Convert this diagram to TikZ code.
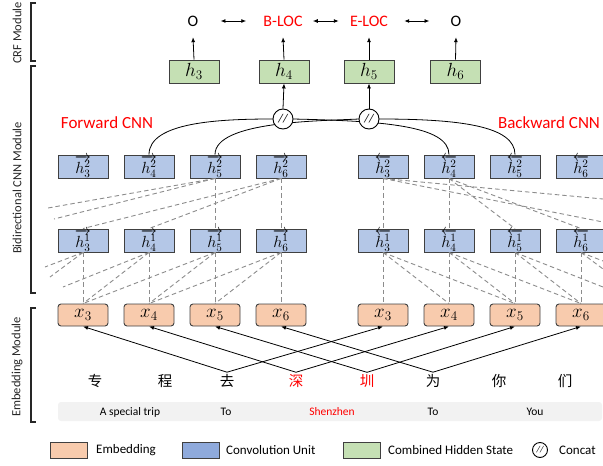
\documentclass[tikz,border=0pt]{standalone}
\usepackage{fontspec}
\setmainfont{Carlito}
\newfontfamily\cjk{Noto Sans CJK SC}
\usetikzlibrary{arrows.meta}
\definecolor{gfill}{HTML}{C5E0B4}
\definecolor{bfill}{HTML}{B4C7E7}
\definecolor{ofill}{HTML}{F8CBAD}
\definecolor{bleg}{HTML}{8FAADC}
\definecolor{bord}{HTML}{404040}
\definecolor{dgray}{HTML}{8C8C8C}
\definecolor{bandc}{HTML}{F2F2F2}
\definecolor{redc}{HTML}{FF0000}
\begin{document}
\begin{tikzpicture}[x=1pt,y=-1pt,
  box/.style={draw=bord, line width=0.9pt, minimum width=50pt, minimum height=23pt, inner sep=0pt},
  gbox/.style={box, fill=gfill, font=\fontsize{17.28}{18}\selectfont},
  bbox/.style={box, fill=bfill, font=\fontsize{14.4}{15}\selectfont},
  obox/.style={box, fill=ofill, rounded corners=3pt, minimum height=22pt, font=\fontsize{17.28}{18}\selectfont},
  dsh/.style={draw=dgray, line width=0.9pt, dash pattern=on 4.5pt off 3pt},
  arr/.style={draw=black, line width=0.8pt, -{Latex[length=5pt,width=4pt]}},
  darr/.style={draw=black, line width=0.9pt, {Latex[length=5pt,width=4pt]}-{Latex[length=5pt,width=4pt]}},
  curve/.style={draw=black, line width=0.8pt},
  lab/.style={font=\fontsize{16}{18}\selectfont, inner sep=0pt, minimum height=32pt},
  cnnlab/.style={font=\fontsize{17}{19}\selectfont, text=redc, inner sep=0pt},
  concat/.style={circle, draw=black, fill=white, line width=0.9pt, minimum size=20pt, inner sep=0pt, font=\fontsize{12}{13}\selectfont\itshape},
  chr/.style={font=\cjk\fontsize{14.5}{16}\selectfont, inner sep=2pt},
  bandtxt/.style={font=\fontsize{11.5}{13}\selectfont, inner sep=0pt},
  legbox/.style={draw=bord, line width=1pt, minimum width=37pt, minimum height=16pt, inner sep=0pt},
  legtxt/.style={font=\fontsize{13}{15}\selectfont, anchor=west, inner sep=0pt},
  modlab/.style={font=\fontsize{12.5}{14}\selectfont, rotate=90, inner sep=0pt, text=black!85},
  bracket/.style={draw=black!85, line width=1.3pt}
]
\useasboundingbox (0,0) rectangle (603,466);
\clip (0,0) rectangle (603,466);

% ---------- module brackets ----------
\draw[bracket] (36,3) -- (31,3) -- (31,61) -- (36,61);
\draw[bracket] (36,66) -- (31,66) -- (31,293) -- (36,293);
\draw[bracket] (36,308) -- (31,308) -- (31,422) -- (36,422);
\node[modlab] (mcrf) at (17,33) {CRF Module};
\node[modlab] (mcnn) at (17,188) {Bidirectional CNN Module};
\node[modlab] (memb) at (17,367) {Embedding Module};

% ---------- CRF labels ----------
\node[lab] (l3) at (193,21) {O};
\node[lab, text=redc] (l4) at (283,21) {B-LOC};
\node[lab, text=redc] (l5) at (369,21) {E-LOC};
\node[lab] (l6) at (456,21) {O};
\draw[darr, shorten <=22pt, shorten >=17pt] (l3.east) -- (l4.west);
\draw[darr, shorten <=10pt, shorten >=11pt] (l4.east) -- (l5.west);
\draw[darr, shorten <=16pt, shorten >=21pt] (l5.east) -- (l6.west);

% ---------- combined hidden states ----------
\node[gbox] (g3) at (194,71.5) {\scalebox{1.1}{$h_3$}};
\node[gbox] (g4) at (284,71.5) {\scalebox{1.1}{$h_4$}};
\node[gbox] (g5) at (369,71.5) {\scalebox{1.1}{$h_5$}};
\node[gbox] (g6) at (455.5,71.5) {\scalebox{1.1}{$h_6$}};
\foreach \i in {3,4,5,6} {\draw[arr] (g\i.north) -- (l\i.south);}

% ---------- CNN labels ----------
\node[cnnlab] (fwd) at (107,123) {Forward CNN};
\node[cnnlab] (bwd) at (549,123) {Backward CNN};

% ---------- blue and orange boxes ----------
\foreach \i/\c in {3/83,4/149,5/215,6/281} {
  \node[bbox] (f2_\i) at (\c,166.5) {\scalebox{1.12}{$\overrightarrow{h^{2}_{\i}}$}};
  \node[bbox] (f1_\i) at (\c,240.5) {\scalebox{1.12}{$\overrightarrow{h^{1}_{\i}}$}};
  \node[obox] (xf\i) at (\c,315) {\scalebox{1.1}{$x_{\i}$}};
}
\foreach \i/\c in {3/383,4/449,5/515,6/581} {
  \node[bbox] (b2_\i) at (\c,166.5) {\scalebox{1.12}{$\overleftarrow{h^{2}_{\i}}$}};
  \node[bbox] (b1_\i) at (\c,240.5) {\scalebox{1.12}{$\overleftarrow{h^{1}_{\i}}$}};
  \node[obox] (xb\i) at (\c,315) {\scalebox{1.1}{$x_{\i}$}};
}

% ---------- cut-off ends of dashed lines ----------
\coordinate (fa) at (48,208);
\coordinate (fb) at (54,219);
\coordinate (fc) at (45,267);
\coordinate (fd) at (50,277);
\coordinate (fe) at (63,287);
\coordinate (ba) at (603,199);
\coordinate (bb) at (603,222);
\coordinate (bc) at (603,287);
\coordinate (bd) at (603,261);
\coordinate (be) at (603,269);

% ---------- forward dashed connections ----------
\draw[dsh] (f2_5.south) -- (f1_5.north);
\draw[dsh] (f2_6.south) -- (f1_6.north);
\draw[dsh] (f2_5.south) -- (fa);
\draw[dsh] (f2_5.south) -- (fb);
\draw[dsh] (f2_6.south) -- (f1_3.north);
\draw[dsh] (f2_6.south) -- (f1_4.north);
\foreach \i in {3,4,5,6} {\draw[dsh] (f1_\i.south) -- (xf\i.north);}
\draw[dsh] (f1_3.south) -- (fc);
\draw[dsh] (f1_3.south) -- (fd);
\draw[dsh] (f1_4.south) -- (fe);
\draw[dsh] (f1_4.south) -- (xf3.north);
\draw[dsh] (f1_5.south) -- (xf3.north);
\draw[dsh] (f1_5.south) -- (xf4.north);
\draw[dsh] (f1_6.south) -- (xf4.north);
\draw[dsh] (f1_6.south) -- (xf5.north);

% ---------- backward dashed connections ----------
\draw[dsh] (b2_3.south) -- (b1_3.north);
\draw[dsh] (b2_4.south) -- (b1_4.north);
\draw[dsh] (b2_3.south) -- (ba);
\draw[dsh] (b2_3.south) -- (bb);
\draw[dsh] (b2_4.south) -- (b1_5.north);
\draw[dsh] (b2_4.south) -- (b1_6.north);
\foreach \i in {3,4,5,6} {\draw[dsh] (b1_\i.south) -- (xb\i.north);}
\draw[dsh] (b1_3.south) -- (xb4.north);
\draw[dsh] (b1_3.south) -- (xb5.north);
\draw[dsh] (b1_4.south) -- (xb5.north);
\draw[dsh] (b1_4.south) -- (xb6.north);
\draw[dsh] (b1_5.south) -- (xb6.north);
\draw[dsh] (b1_5.south) -- (bc);
\draw[dsh] (b1_6.south) -- (bd);
\draw[dsh] (b1_6.south) -- (be);

% ---------- concat ----------
\coordinate (c4w) at (273,119);
\coordinate (c4e) at (293,119);
\coordinate (c5w) at (359,119);
\coordinate (c5e) at (379,119);
\draw[curve] (c4w) .. controls (220,119) and (149,122) .. (f2_4.north);
\draw[curve] (c5w) .. controls (320,121) and (215,121) .. (f2_5.north);
\draw[curve] (c4e) .. controls (380,121) and (449,125) .. (b2_4.north);
\draw[curve] (c5e) .. controls (460,119) and (515,126) .. (b2_5.north);
\node[concat] (c4) at (283,119) {//};
\node[concat] (c5) at (369,119) {//};
\draw[arr] (c4.north) -- (g4.south);
\draw[arr] (c5.north) -- (g5.south);

% ---------- characters ----------
\node[chr] (ch1) at (95,381) {专};
\node[chr] (ch2) at (165,381) {程};
\node[chr] (ch3) at (227,381) {去};
\node[chr, text=redc] (ch4) at (296,381) {深};
\node[chr, text=redc] (ch5) at (367,381) {圳};
\node[chr] (ch6) at (433,381) {为};
\node[chr] (ch7) at (499,381) {你};
\node[chr] (ch8) at (565,381) {们};
\foreach \j/\i in {3/3,4/4,5/5,6/6} {
  \draw[arr] (ch\j.north) -- (xf\i.south);
  \draw[arr] (ch\j.north) -- (xb\i.south);
}

% ---------- translation band ----------
\node[fill=bandc, rounded corners=3pt, minimum width=544pt, minimum height=19pt, inner sep=0pt] (band) at (330,411.5) {};
\node[bandtxt] (t1) at (130,412) {A special trip};
\node[bandtxt] (t2) at (226,412) {To};
\node[bandtxt, text=redc] (t3) at (332,412) {Shenzhen};
\node[bandtxt] (t4) at (433,412) {To};
\node[bandtxt] (t5) at (535,412) {You};

% ---------- legend ----------
\node[legbox, fill=ofill] (lg1) at (68.5,450) {};
\node[legtxt] (lt1) at (96,450) {Embedding};
\node[legbox, fill=bleg] (lg2) at (200.5,450) {};
\node[legtxt] (lt2) at (226,450) {Convolution Unit};
\node[legbox, fill=gfill] (lg3) at (361.5,450) {};
\node[legtxt] (lt3) at (388,450) {Combined Hidden State};
\node[concat, minimum size=15pt, font=\fontsize{9}{10}\selectfont\itshape] (lg4) at (540,450) {//};
\node[legtxt] (lt4) at (559,450) {Concat};
\end{tikzpicture}
\end{document}
